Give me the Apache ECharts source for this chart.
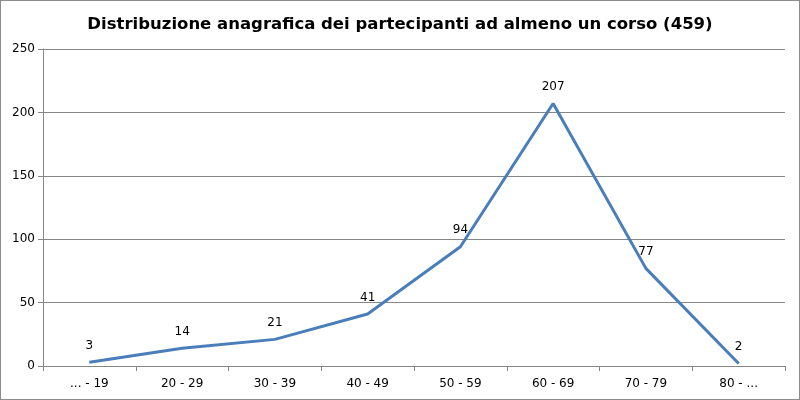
<!DOCTYPE html>
<html>
<head>
<meta charset="utf-8">
<script src="https://cdn.jsdelivr.net/npm/echarts@6/dist/echarts.min.js"></script>
<style>
  html, body { margin: 0; padding: 0; background: #fff; }
  #main { width: 798px; height: 398px; border: 1px solid #8c8c8c; }
</style>
</head>
<body>
<div id="main"></div>
<script>
// fasce d'età e numero di partecipanti
var categories = ['... - 19', '20 - 29', '30 - 39', '40 - 49', '50 - 59', '60 - 69', '70 - 79', '80 - ...'];
var partecipanti = [3, 14, 21, 41, 94, 207, 77, 2];
var yTicks = [0, 50, 100, 150, 200, 250];

var myChart = echarts.init(document.getElementById('main'));

myChart.setOption({
  animation: false,
  title: {
    text: 'Distribuzione anagrafica dei partecipanti ad almeno un corso (459)',
    left: 'center',
    top: 10,
    textStyle: {
      color: '#000',
      fontFamily: 'DejaVu Sans',
      fontWeight: 'bold',
      fontSize: 16.5
    }
  },
  grid: { left: 42, right: 14, top: 48, bottom: 33 },
  xAxis: {
    type: 'category',
    data: categories,
    boundaryGap: true,
    axisLine: { lineStyle: { color: '#868686' } },
    axisTick: { show: true, length: 5, lineStyle: { color: '#868686' } },
    axisLabel: { color: '#000', fontFamily: 'DejaVu Sans', fontSize: 12, margin: 12 }
  },
  yAxis: {
    type: 'value',
    min: yTicks[0],
    max: yTicks[yTicks.length - 1],
    interval: 50,
    axisLine: { show: true, lineStyle: { color: '#868686' } },
    axisTick: { show: true, length: 5, lineStyle: { color: '#868686' } },
    splitLine: { lineStyle: { color: '#868686' } },
    axisLabel: { color: '#000', fontFamily: 'DejaVu Sans', fontSize: 12, margin: 8 }
  },
  series: [{
    type: 'line',
    data: partecipanti,
    symbol: 'circle',
    symbolSize: 1,
    itemStyle: { color: '#4a7ebb' },
    lineStyle: { color: '#4a7ebb', width: 3 },
    label: {
      show: true,
      position: 'top',
      distance: 10,
      color: '#000',
      fontFamily: 'DejaVu Sans',
      fontSize: 12
    }
  }]
});
</script>
</body>
</html>
